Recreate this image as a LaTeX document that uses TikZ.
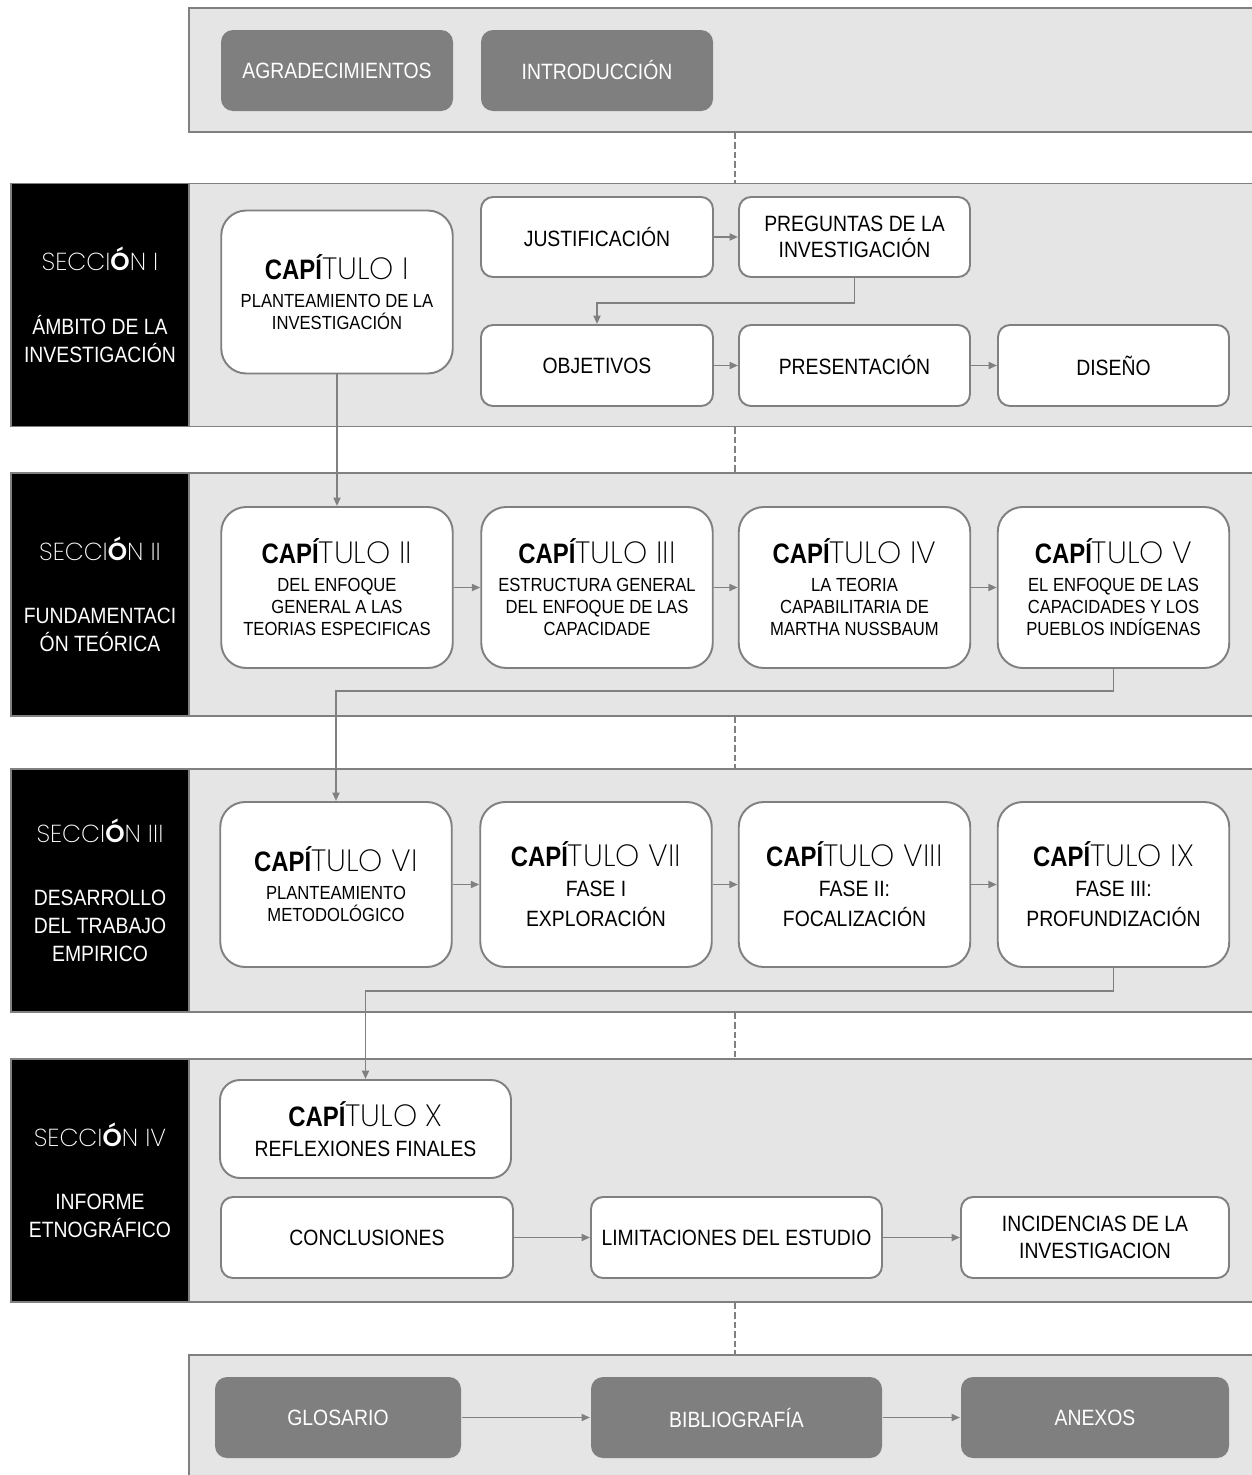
\documentclass[tikz,border=0pt]{standalone}
\usepackage{fontspec}
\setmainfont{Liberation Sans}[FakeStretch=0.875]
\newfontfamily\thinfont{Poppins}[UprightFont=* ExtraLight, BoldFont=* SemiBold]
\newfontfamily\heavyfont{Liberation Sans}[UprightFont=* Bold, FakeStretch=0.85]
\usetikzlibrary{arrows.meta}
\definecolor{bandgray}{HTML}{E5E5E5}
\definecolor{linegray}{HTML}{808080}
\definecolor{boxgray}{HTML}{7F7F7F}
\def\captit#1{{\fontsize{16}{19}\selectfont{\heavyfont CAPÍ}{\thinfont\fontsize{17.5}{19}\selectfont TULO #1}}}
\def\sectit#1{{\thinfont\fontsize{14}{17}\selectfont SECCI\textbf{Ó}N #1}}
\tikzset{
	band/.style={draw=linegray, fill=bandgray, line width=1pt, inner sep=0pt, minimum width=21.46cm, minimum height=4.86cm},
	seclabel/.style={draw=linegray, fill=black, text=white, line width=1pt, inner sep=0pt, minimum width=3.56cm, minimum height=4.86cm, align=center, font=\fontsize{12.6}{16}\selectfont},
	box/.style={draw=linegray, fill=white, line width=1.1pt, rounded corners=0.24cm, inner sep=0pt, minimum height=1.62cm, align=center, font=\fontsize{12.6}{15}\selectfont},
	capbox/.style={box, rounded corners=0.5cm, minimum width=4.63cm, minimum height=3.26cm, font=\fontsize{10.8}{12.7}\selectfont},
	bigcapbox/.style={capbox, font=\fontsize{12.6}{17}\selectfont},
	darkbox/.style={box, draw=none, fill=boxgray, text=white},
	conn/.style={draw=linegray, line width=1.1pt, -{Triangle[length=1.7mm,width=1.4mm]}},
	dashline/.style={draw=linegray, line width=1pt, dash pattern=on 3.6pt off 1.8pt},
}

\begin{document}
\begin{tikzpicture}
			%%%%% START %%%%%
			\useasboundingbox (0,0) rectangle (25.02,-29.5);
			
			% bands
			\node[band, minimum height=2.48cm] (band0) at (14.51,-1.4) {};
			\node[band] (band1) at (14.51,-6.1) {};
			\node[band] (band2) at (14.51,-11.89) {};
			\node[band] (band3) at (14.51,-17.81) {};
			\node[band] (band4) at (14.51,-23.61) {};
			\node[band, minimum height=2.8cm] (band5) at (14.51,-28.5) {};
			\coordinate (mid) at (14.7,0);
			
			% section labels
			\node[seclabel] (lab1) at (2.0,-6.1) {\sectit{I}\\[20pt]ÁMBITO DE LA\\INVESTIGACIÓN};
			\node[seclabel] (lab2) at (2.0,-11.89) {\sectit{II}\\[20pt]FUNDAMENTACI\\ÓN TEÓRICA};
			\node[seclabel] (lab3) at (2.0,-17.81) {\sectit{III}\\[20pt]DESARROLLO\\DEL TRABAJO\\EMPIRICO};
			\node[seclabel] (lab4) at (2.0,-23.61) {\sectit{IV}\\[20pt]INFORME\\ETNOGRÁFICO};
			
			% top
			\node[darkbox, minimum width=4.64cm] (agra) at (6.74,-1.41) {AGRADECIMIENTOS};
			\node[darkbox, minimum width=4.64cm] (intro) at (11.94,-1.41) {INTRODUCCIÓN};
			
			% seccion I
			\node[capbox] (cap1) at (6.74,-5.84) {\captit{I}\\[3pt]PLANTEAMIENTO DE LA\\INVESTIGACIÓN};
			\node[box, minimum width=4.64cm, minimum height=1.6cm] (just) at (11.94,-4.74) {JUSTIFICACIÓN};
			\node[box, minimum width=4.62cm, minimum height=1.6cm] (preg) at (17.09,-4.74) {PREGUNTAS DE LA\\INVESTIGACIÓN};
			\node[box, minimum width=4.64cm] (obj) at (11.94,-7.31) {OBJETIVOS};
			\node[box, minimum width=4.62cm] (pres) at (17.09,-7.31) {PRESENTACIÓN};
			\node[box, minimum width=4.62cm] (dise) at (22.27,-7.31) {DISEÑO};
			
			\draw[conn] (just.east) -- (preg.west);
			\draw[conn] (preg.south) -- ++(0,-0.5) -| (obj.north);
			\draw[conn] (obj.east) -- (pres.west);
			\draw[conn] (pres.east) -- (dise.west);
			
			% seccion II
			\node[capbox, minimum height=3.22cm] (cap2) at (6.74,-11.75) {\captit{II}\\[3pt]DEL ENFOQUE\\GENERAL A LAS\\TEORIAS ESPECIFICAS};
			\node[capbox, minimum height=3.22cm] (cap3) at (11.94,-11.75) {\captit{III}\\[3pt]ESTRUCTURA GENERAL\\DEL ENFOQUE DE LAS\\CAPACIDADE};
			\node[capbox, minimum height=3.22cm] (cap4) at (17.09,-11.75) {\captit{IV}\\[3pt]LA TEORIA\\CAPABILITARIA DE\\MARTHA NUSSBAUM};
			\node[capbox, minimum height=3.22cm] (cap5) at (22.27,-11.75) {\captit{V}\\[3pt]EL ENFOQUE DE LAS\\CAPACIDADES Y LOS\\PUEBLOS INDÍGENAS};
			
			\draw[conn] (cap1.south) -- (cap2.north);
			\draw[conn] (cap2.east) -- (cap3.west);
			\draw[conn] (cap3.east) -- (cap4.west);
			\draw[conn] (cap4.east) -- (cap5.west);
			
			% seccion III
			\node[capbox, minimum height=3.3cm] (cap6) at (6.72,-17.69) {\captit{VI}\\[3pt]PLANTEAMIENTO\\METODOLÓGICO};
			\node[bigcapbox, minimum height=3.3cm] (cap7) at (11.92,-17.69) {\captit{VII}\\FASE I\\EXPLORACIÓN};
			\node[bigcapbox, minimum height=3.3cm] (cap8) at (17.09,-17.69) {\captit{VIII}\\FASE II:\\FOCALIZACIÓN};
			\node[bigcapbox, minimum height=3.3cm] (cap9) at (22.27,-17.69) {\captit{IX}\\FASE III:\\PROFUNDIZACIÓN};
			
			\draw[conn] (cap5.south) -- ++(0,-0.44) -| (cap6.north);
			\draw[conn] (cap6.east) -- (cap7.west);
			\draw[conn] (cap7.east) -- (cap8.west);
			\draw[conn] (cap8.east) -- (cap9.west);
			
			% seccion IV
			\node[bigcapbox, rounded corners=0.4cm, minimum width=5.82cm, minimum height=1.96cm] (cap10) at (7.31,-22.58) {\captit{X}\\REFLEXIONES FINALES};
			\node[box, minimum width=5.84cm] (concl) at (7.34,-24.75) {CONCLUSIONES};
			\node[box, minimum width=5.82cm] (limit) at (14.73,-24.75) {LIMITACIONES DEL ESTUDIO};
			\node[box, minimum width=5.36cm] (incid) at (21.9,-24.75) {INCIDENCIAS DE LA\\INVESTIGACION};
			
			\draw[conn] (cap9.south) -- ++(0,-0.46) -| (cap10.north);
			\draw[conn] (concl.east) -- (limit.west);
			\draw[conn] (limit.east) -- (incid.west);
			
			% bottom
			\node[darkbox, minimum width=4.92cm] (glos) at (6.76,-28.35) {GLOSARIO};
			\node[darkbox, minimum width=5.82cm] (bibl) at (14.73,-28.35) {BIBLIOGRAFÍA};
			\node[darkbox, minimum width=5.36cm] (anex) at (21.9,-28.35) {ANEXOS};
			
			\draw[conn] (glos.east) -- (bibl.west);
			\draw[conn] (bibl.east) -- (anex.west);
			
			% dashed links
			\draw[dashline] (band0.south -| mid) -- (band1.north -| mid);
			\draw[dashline] (band1.south -| mid) -- (band2.north -| mid);
			\draw[dashline] (band2.south -| mid) -- (band3.north -| mid);
			\draw[dashline] (band3.south -| mid) -- (band4.north -| mid);
			\draw[dashline] (band4.south -| mid) -- (band5.north -| mid);
			
			%%%%% END %%%%%
\end{tikzpicture}
\end{document}
